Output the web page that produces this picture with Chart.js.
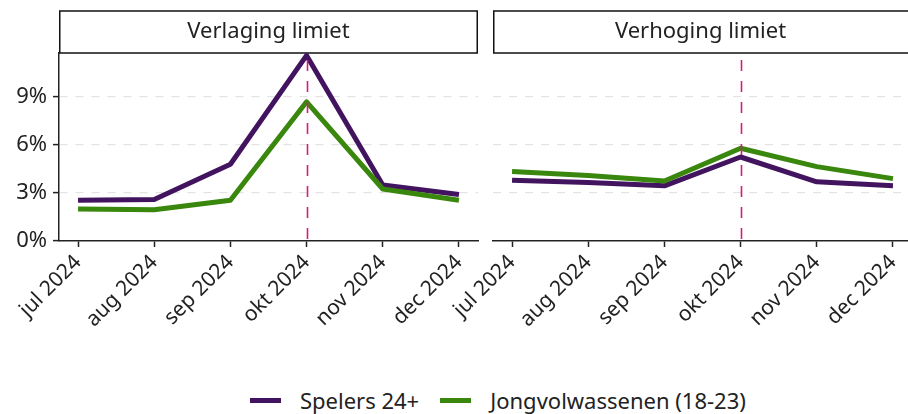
<!DOCTYPE html>
<html>
<head>
<meta charset="utf-8">
<script src="https://cdn.jsdelivr.net/npm/chart.js@4.4.1/dist/chart.umd.min.js"></script>
<style>
    body { margin: 0; width: 908px; height: 414px; overflow: hidden; position: relative; background: #fff; font-family: 'Noto Sans', sans-serif; }
    canvas { position: absolute; top: 0; }
    #chartLeft { left: 0; }
    #chartRight { left: 440px; }
    #legend { position: absolute; left: 250px; top: 385px; display: flex; align-items: center; font-size: 22px; color: #222; white-space: nowrap; }
    .item { display: flex; align-items: center; margin-right: 21px; }
    .swatch { width: 31px; height: 5px; margin-right: 19px; }
</style>
</head>
<body>
<canvas id="chartLeft" width="490" height="340"></canvas>
<canvas id="chartRight" width="480" height="340"></canvas>
<div id="legend"></div>

<script>
// chart values
const months = ['jul 2024', 'aug 2024', 'sep 2024', 'okt 2024', 'nov 2024', 'dec 2024'];
const seriesNames = ['Spelers 24+', 'Jongvolwassenen (18-23)'];
const seriesColors = ['#42145f', '#39870c'];
const panelTitles = ['Verlaging limiet', 'Verhoging limiet'];
const yTicks = [0, 3, 6, 9];
const markMonth = 'okt 2024';

const verlagingSpelers = [2.55, 2.6, 4.8, 11.6, 3.5, 2.9];
const verlagingJong = [2.0, 1.95, 2.55, 8.7, 3.25, 2.55];
const verhogingSpelers = [3.8, 3.65, 3.45, 5.25, 3.7, 3.45];
const verhogingJong = [4.35, 4.1, 3.75, 5.8, 4.65, 3.9];

const FONT = "'Noto Sans', sans-serif";

// strip header above each panel + dashed marker line
const stripPlugin = {
    id: 'strip',
    beforeDraw(chart, args, opts) {
        const { ctx, chartArea } = chart;
        ctx.save();
        ctx.strokeStyle = '#111';
        ctx.lineWidth = 1.5;
        ctx.strokeRect(chartArea.left + 0.75, 11, chartArea.right - chartArea.left - 1.5, 42);
        ctx.fillStyle = '#222';
        ctx.font = '22px ' + FONT;
        ctx.textAlign = 'center';
        ctx.textBaseline = 'middle';
        ctx.fillText(opts.title, (chartArea.left + opts.titleRight) / 2, 32);
        ctx.restore();
    },
    afterDatasetsDraw(chart) {
        const { ctx, chartArea, scales } = chart;
        const x = Math.round(scales.x.getPixelForValue(months.indexOf(markMonth))) + 0.5;
        ctx.save();
        ctx.strokeStyle = '#d81b7a';
        ctx.lineWidth = 1.6;
        ctx.setLineDash([11, 10]);
        ctx.beginPath();
        ctx.moveTo(x, chartArea.top + 7);
        ctx.lineTo(x, chartArea.bottom + 6);
        ctx.stroke();
        ctx.restore();
    }
};

function makePanel(canvasId, spelers, jong, title, isLeft) {
    const data = [spelers, jong];
    return new Chart(document.getElementById(canvasId), {
        type: 'line',
        data: {
            datasets: data.map((vals, i) => ({
                label: seriesNames[i],
                data: vals.map((v, j) => ({ x: j, y: v })),
                borderColor: seriesColors[i],
                borderWidth: 5,
                borderCapStyle: 'butt',
                borderJoinStyle: 'round',
                pointRadius: 0,
                tension: 0
            })).reverse()
        },
        options: {
            responsive: false,
            animation: false,
            layout: { padding: isLeft ? { top: 53, left: 0, right: 12, bottom: 0 } : { top: 53, left: 53, right: 8, bottom: 0 } },
            plugins: {
                legend: { display: false },
                tooltip: { enabled: false },
                strip: { title: title, titleRight: isLeft ? 478 : 908 - 440 }
            },
            scales: {
                x: {
                    type: 'linear',
                    min: -0.25,
                    max: months.length - 0.75,
                    afterBuildTicks: s => { s.ticks = months.map((m, i) => ({ value: i })); },
                    afterFit: s => { s.height = 99; },
                    ticks: {
                        callback: v => months[v],
                        autoSkip: false,
                        minRotation: 45,
                        maxRotation: 45,
                        padding: 3,
                        color: '#222',
                        font: { family: FONT, size: 21 }
                    },
                    grid: { drawOnChartArea: false, drawTicks: true, tickLength: 6, tickColor: '#222', tickWidth: 1.5 },
                    border: { display: true, color: '#222', width: 1.5 }
                },
                y: {
                    min: 0,
                    max: 11.75,
                    afterBuildTicks: s => { s.ticks = yTicks.map(v => ({ value: v })); },
                    afterFit: s => { s.width = isLeft ? 59 : 0; },
                    ticks: {
                        display: isLeft,
                        callback: v => v + '%',
                        padding: 6,
                        color: '#222',
                        font: { family: FONT, size: 22 }
                    },
                    grid: {
                        color: c => c.tick && c.tick.value === 0 ? 'rgba(0,0,0,0)' : '#e3e3e3',
                        lineWidth: 1.2,
                        drawTicks: isLeft,
                        tickLength: 6,
                        tickColor: '#222',
                        tickWidth: 1.5,
                        tickBorderDash: []
                    },
                    border: { display: isLeft, color: '#222', width: 1.5, dash: [8, 8] }
                }
            }
        },
        plugins: [stripPlugin]
    });
}

makePanel('chartLeft', verlagingSpelers, verlagingJong, panelTitles[0], true);
makePanel('chartRight', verhogingSpelers, verhogingJong, panelTitles[1], false);

const legend = document.getElementById('legend');
seriesNames.forEach((name, i) => {
    const item = document.createElement('div');
    item.className = 'item';
    item.innerHTML = '<span class="swatch" style="background:' + seriesColors[i] + '"></span><span>' + name + '</span>';
    legend.appendChild(item);
});
</script>
</body>
</html>
